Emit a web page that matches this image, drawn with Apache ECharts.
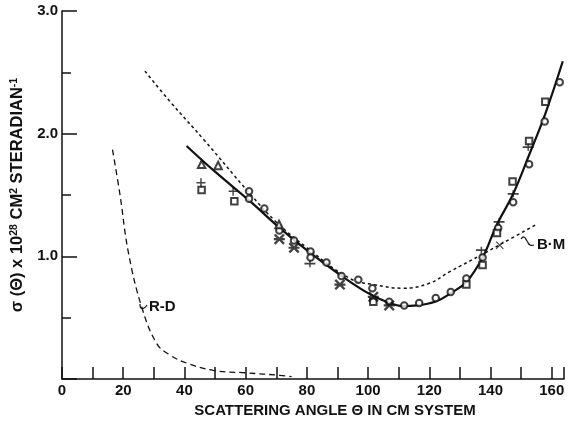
<!DOCTYPE html>
<html>
<head>
<meta charset="utf-8">
<script src="https://cdn.jsdelivr.net/npm/echarts@6/dist/echarts.min.js"></script>
<style>
  html, body { margin: 0; padding: 0; background: #fff; }
  #chart { width: 574px; height: 423px; }
</style>
</head>
<body>
<div id="chart"></div>
<script>
// fitted curves [angle, sigma]
var solidCurve = [[40.7,1.90],[50,1.69],[61.4,1.45],[71.2,1.23],[81,1.03],[90.8,0.85],[100,0.70],[106,0.63],[111.4,0.595],[116,0.60],[122.3,0.634],[127,0.70],[132.1,0.79],[137.6,1.0],[141.9,1.25],[147.4,1.51],[152.5,1.82],[158,2.17],[163.6,2.59]];
var bmCurve = [[27.1,2.51],[35,2.27],[46.7,1.94],[61.4,1.51],[70,1.28],[80,1.07],[94,0.82],[101.7,0.77],[111.4,0.74],[120,0.78],[126.7,0.875],[137.6,1.02],[144.1,1.11],[155,1.26]];
var rdCurve = [[16.5,1.87],[18.9,1.51],[21.7,1.03],[26,0.59],[30.9,0.29],[35,0.2],[40.7,0.13],[49.4,0.07],[60.3,0.05],[71.2,0.03],[75,0.02]];

// measured points
var circles = [[61.1,1.53],[61.1,1.47],[66.1,1.39],[71,1.21],[75.8,1.13],[81.2,1.04],[81.2,0.99],[86.4,0.95],[91.3,0.84],[96.8,0.81],[101.4,0.74],[106.9,0.63],[111.8,0.60],[116.7,0.62],[122.1,0.66],[127,0.71],[132.1,0.82],[137.4,0.99],[142.5,1.23],[147.4,1.44],[152.6,1.75],[157.7,2.10],[162.6,2.42]];
var squares = [[45.6,1.54],[56.3,1.45],[101.7,0.63],[132.1,0.77],[137.4,0.93],[142.1,1.19],[147.2,1.61],[152.6,1.94],[157.9,2.26]];
var triangles = [[45.6,1.75],[51.0,1.74],[70.9,1.26]];
var pluses = [[45.4,1.60],[55.9,1.53]];
var stars = [[71,1.14],[75.8,1.07],[90.8,0.77],[101.7,0.67],[106.9,0.60]];
var crosses = [[143,1.09]];
var bars = [[81,0.94],[137,1.05],[142.8,1.28],[147.4,1.51],[152.3,1.89]];

var xTicks = [0, 20, 40, 60, 80, 100, 120, 140, 160];
var yTicks = [1.0, 2.0, 3.0];

var INK = '#111';
var FONT = 'Liberation Sans';
var chart = echarts.init(document.getElementById('chart'));

function pts(data, symbol, size, hollow) {
    return {
        type: 'scatter',
        data: data,
        symbol: symbol,
        symbolSize: size,
        itemStyle: hollow ? { color: INK, borderColor: INK, borderWidth: 1.4 } : { color: INK, borderWidth: 0 },
        z: 5
    };
}

var option = {
    backgroundColor: '#fff',
    animation: false,
    grid: { left: 62, right: 10, top: 11, bottom: 37 },
    xAxis: {
        type: 'value', min: 0, max: 164, interval: 10,
        name: 'SCATTERING ANGLE Θ IN CM SYSTEM',
        nameLocation: 'middle', nameGap: 24,
        nameTextStyle: { color: INK, fontSize: 15, fontWeight: 'bold', fontFamily: FONT, padding: [0, 0, 0, 44] },
        axisLine: { lineStyle: { color: INK, width: 1.5 } },
        axisTick: { inside: true, length: 12, lineStyle: { color: INK, width: 1.5 } },
        axisLabel: {
            color: INK, fontSize: 15, fontWeight: 'bold', fontFamily: FONT, margin: 4,
            formatter: function (v) { return xTicks.indexOf(v) >= 0 ? String(v) : ''; }
        },
        splitLine: { show: false }
    },
    yAxis: {
        type: 'value', min: 0, max: 3, interval: 1,
        name: '{b|σ (Θ) x 10}{s|28}{b| CM}{s|2}{b| STERADIAN}{s|-1}',
        nameLocation: 'middle', nameGap: 30,
        nameTextStyle: {
            color: INK, fontFamily: FONT,
            rich: {
                b: { fontSize: 16.5, fontWeight: 'bold', fontFamily: FONT, color: INK, verticalAlign: 'bottom', lineHeight: 18 },
                s: { fontSize: 10.5, fontWeight: 'bold', fontFamily: FONT, color: INK, verticalAlign: 'top', lineHeight: 18 }
            }
        },
        axisLine: { show: true, lineStyle: { color: INK, width: 1.5 } },
        axisTick: { inside: true, length: 15, lineStyle: { color: INK, width: 1.5 } },
        minorTick: { show: true, splitNumber: 2, length: 9, lineStyle: { color: INK, width: 1.5 } },
        axisLabel: {
            color: INK, fontSize: 15, fontWeight: 'bold', fontFamily: FONT, margin: 4,
            formatter: function (v) { return yTicks.indexOf(v) >= 0 ? v.toFixed(1) : ''; }
        },
        splitLine: { show: false }
    },
    series: [
        { type: 'line', data: solidCurve, smooth: 0.4, symbol: 'none', lineStyle: { color: INK, width: 2.2 }, z: 3 },
        { type: 'line', data: bmCurve, smooth: 0.4, symbol: 'none', lineStyle: { color: INK, width: 1.5, type: [3, 3] }, z: 2 },
        { type: 'line', data: rdCurve, smooth: 0.4, symbol: 'none', lineStyle: { color: INK, width: 1.3, type: [6, 4] }, z: 2 },
        pts(circles, 'emptyCircle', 6.5, true),
        pts(squares, 'emptyRect', 6.5, true),
        pts(triangles, 'emptyTriangle', 7.5, true),
        pts(pluses, 'path://M0,4.2h10v1.6h-10z M4.2,0h1.6v10h-1.6z', 9, false),
        pts(stars, 'path://M0,1.5L1.5,0L5,3.5L8.5,0L10,1.5L6.5,5L10,8.5L8.5,10L5,6.5L1.5,10L0,8.5L3.5,5Z M0,4h10v2h-10z', 11, false),
        pts(crosses, 'path://M0,1L1,0L5,4L9,0L10,1L6,5L10,9L9,10L5,6L1,10L0,9L4,5Z', 8, false),
        pts(bars, 'path://M0,4h12v2h-12z M5.2,1h1.6v8h-1.6z', [11, 7], false)
    ],
    graphic: [
        { type: 'text', left: 149, top: 299, style: { text: 'R-D', fill: INK, font: 'bold 15px "Liberation Sans"' } },
        { type: 'polyline', shape: { points: [[140, 304], [141, 308], [144, 308], [147, 305]], smooth: 0.5 }, style: { stroke: INK, fill: null, lineWidth: 1.2 } },
        { type: 'text', left: 537, top: 237, style: { text: 'B·M', fill: INK, font: 'bold 15px "Liberation Sans"' } },
        { type: 'polyline', shape: { points: [[521, 239], [524, 237], [527, 241], [530, 245], [534, 245]], smooth: 0.5 }, style: { stroke: INK, fill: null, lineWidth: 1.2 } }
    ]
};

chart.setOption(option);
</script>
</body>
</html>
